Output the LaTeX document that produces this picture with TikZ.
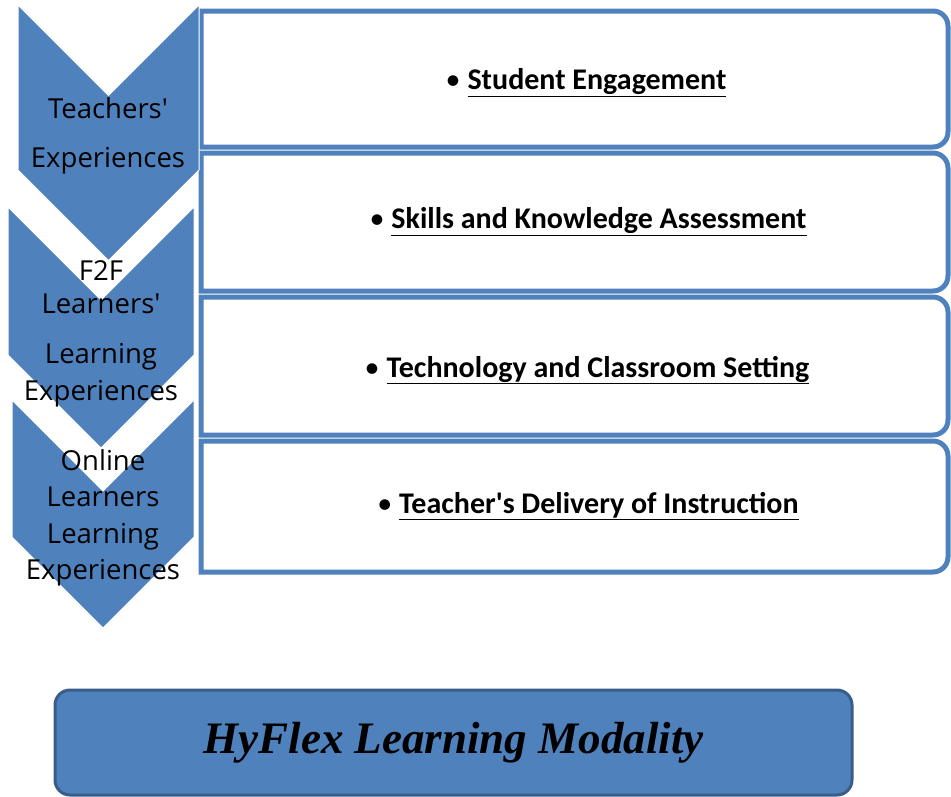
\documentclass[tikz,border=0pt]{standalone}
\usepackage{fontspec}
\usepackage{tikz}
\newfontfamily\opensansfont{Open Sans}
\newfontfamily\carlitofont{Carlito}
\newfontfamily\timesfont{Liberation Serif}

\definecolor{chevblue}{HTML}{4F81BD}
\definecolor{darkblue}{HTML}{385D8A}

\tikzset{
	chev/.style={fill=chevblue, draw=white, line width=1pt},
	itembox/.style={draw=chevblue, line width=5pt, fill=white},
	chevtext/.style={align=center, inner sep=0pt, font=\opensansfont\fontsize{27.5}{36.5}\selectfont},
	itemtext/.style={inner sep=0pt, font=\carlitofont\bfseries\fontsize{30}{36}\selectfont},
	modbox/.style={draw=darkblue, fill=chevblue, line width=3pt, rounded corners=15pt,
		minimum width=797pt, minimum height=105pt,
		font=\timesfont\bfseries\itshape\fontsize{45}{50}\selectfont}
}

\begin{document}
\begin{tikzpicture}[x=1pt,y=-1pt]
	\useasboundingbox (0,0) rectangle (951,796);
	% boxes on the right
	\foreach \top/\bot in {11/147,153/291,297/435,441/572}
	{
		\draw[itembox] (201,\top) -- (933,\top) arc[start angle=-90,end angle=0,radius=15]
			-- (948,\bot-15) arc[start angle=0,end angle=90,radius=15] -- (201,\bot) -- cycle;
	}
	% chevrons on the left
	\foreach \l/\r/\t/\b in {18/199/5/170, 8/194/207/355, 12/194/400/537}
	{
		\pgfmathsetmacro\c{(\l+\r)/2}
		\pgfmathsetmacro\h{(\r-\l)/2}
		\filldraw[chev] (\l,\t) -- (\c,\t+\h) -- (\r,\t) -- (\r,\b) -- (\c,\b+\h) -- (\l,\b) -- cycle;
	}
	\node[chevtext] (teachers) at (108,136) {Teachers\textquotesingle\\[13pt]Experiences};
	\node[chevtext] (ftwof) at (101,334) {F2F\\[-4pt]Learners\textquotesingle\\[14pt]Learning\\Experiences};
	\node[chevtext] (online) at (103,518) {Online\\Learners\\Learning\\Experiences};
	% items
	\node[itemtext] (engagement) at (586,83) {{\mdseries\textbullet}\hspace{7pt}\underline{Student Engagement}};
	\node[itemtext] (assessment) at (588,222) {{\mdseries\textbullet}\hspace{7pt}\underline{Skills and Knowledge Assessment}};
	\node[itemtext] (technology) at (587,370) {{\mdseries\textbullet}\hspace{7pt}\underline{Technology and Classroom Setting}};
	\node[itemtext] (delivery) at (588,506) {{\mdseries\textbullet}\hspace{7pt}\underline{Teacher's Delivery of Instruction}};
	% modality
	\node[modbox] (modality) at (453.5,742.5) {HyFlex Learning Modality};
\end{tikzpicture}
\end{document}
